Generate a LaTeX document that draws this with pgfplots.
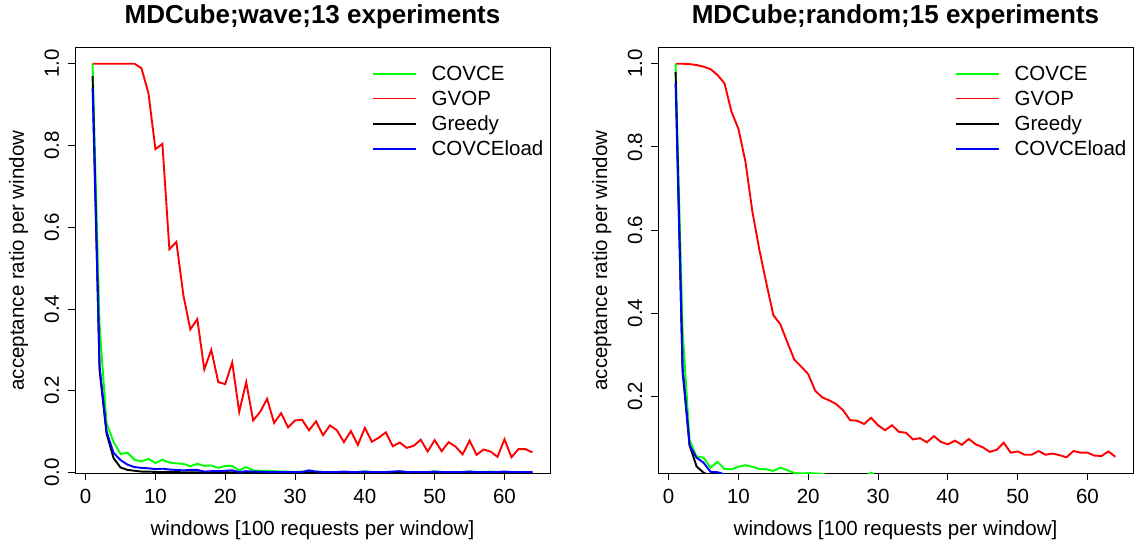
\documentclass[border=0pt]{standalone}
\usepackage{pgfplots}
\usepackage{pgfplotstable}
\pgfplotsset{compat=1.18}
\usepackage{fontspec}
\setmainfont{Liberation Sans}
\newcommand\lbl{\fontsize{20.5}{24}\selectfont}

\pgfplotstableread{
x gvop covce greedy load
1 1.000 1.000 0.970 0.940
2 1.000 0.360 0.250 0.260
3 1.000 0.120 0.095 0.100
4 1.000 0.075 0.035 0.048
5 1.000 0.045 0.012 0.030
6 1.000 0.048 0.006 0.019
7 1.000 0.031 0.004 0.013
8 0.989 0.027 0.002 0.011
9 0.928 0.033 0.002 0.010
10 0.791 0.023 0.001 0.008
11 0.804 0.031 0.001 0.009
12 0.546 0.024 0.001 0.007
13 0.564 0.022 0.001 0.006
14 0.434 0.021 0.000 0.005
15 0.350 0.015 0.000 0.006
16 0.375 0.021 0.000 0.006
17 0.252 0.016 0.000 0.002
18 0.300 0.017 0.000 0.003
19 0.221 0.011 0.000 0.003
20 0.216 0.016 0.001 0.004
21 0.269 0.016 0.000 0.005
22 0.148 0.005 0.000 0.001
23 0.221 0.013 0.000 0.003
24 0.127 0.005 0.000 0.002
25 0.148 0.004 0.000 0.002
26 0.180 0.004 0.000 0.001
27 0.121 0.003 0.000 0.001
28 0.145 0.002 0.000 0.001
29 0.110 0.002 0.000 0.001
30 0.127 0.001 0.000 0.001
31 0.129 0.002 0.000 0.001
32 0.103 0.001 0.000 0.005
33 0.125 0.002 0.000 0.002
34 0.091 0.001 0.000 0.001
35 0.115 0.001 0.000 0.001
36 0.103 0.001 0.000 0.001
37 0.074 0.001 0.000 0.002
38 0.101 0.001 0.000 0.001
39 0.067 0.001 0.000 0.001
40 0.109 0.002 0.000 0.002
41 0.075 0.001 0.000 0.001
42 0.085 0.001 0.000 0.001
43 0.098 0.001 0.000 0.001
44 0.064 0.001 0.000 0.002
45 0.073 0.002 0.000 0.003
46 0.060 0.001 0.000 0.001
47 0.065 0.001 0.000 0.001
48 0.080 0.001 0.000 0.001
49 0.051 0.001 0.000 0.001
50 0.079 0.002 0.000 0.002
51 0.052 0.001 0.000 0.001
52 0.074 0.001 0.000 0.001
53 0.063 0.001 0.000 0.001
54 0.044 0.001 0.000 0.001
55 0.078 0.002 0.000 0.002
56 0.043 0.001 0.000 0.001
57 0.056 0.001 0.000 0.001
58 0.051 0.002 0.000 0.001
59 0.038 0.001 0.000 0.001
60 0.081 0.001 0.000 0.002
61 0.037 0.001 0.000 0.001
62 0.057 0.001 0.000 0.001
63 0.057 0.001 0.000 0.001
64 0.049 0.001 0.000 0.001
}\wave

\pgfplotstableread{
x gvop covce greedy load
1 1.000 1.000 0.980 0.953
2 1.000 0.360 0.260 0.270
3 0.999 0.094 0.082 0.082
4 0.997 0.055 0.031 0.052
5 0.993 0.052 0.016 0.040
6 0.987 0.028 0.008 0.018
7 0.973 0.042 0.004 0.017
8 0.953 0.025 0.002 0.012
9 0.885 0.024 0.001 0.008
10 0.843 0.030 0.000 0.005
11 0.765 0.034 0.000 0.004
12 0.644 0.030 0.000 0.003
13 0.552 0.025 0.000 0.002
14 0.472 0.024 0.000 0.002
15 0.395 0.020 0.000 0.001
16 0.373 0.028 0.000 0.001
17 0.330 0.022 0.000 0.001
18 0.288 0.015 0.000 0.001
19 0.271 0.014 0.000 0.001
20 0.253 0.015 0.000 0.001
21 0.213 0.014 0.000 0.001
22 0.197 0.013 0.000 0.001
23 0.190 0.008 0.000 0.001
24 0.181 0.005 0.000 0.001
25 0.166 0.005 0.000 0.001
26 0.142 0.004 0.000 0.001
27 0.141 0.004 0.000 0.001
28 0.133 0.005 0.000 0.001
29 0.148 0.016 0.000 0.001
30 0.130 0.005 0.000 0.001
31 0.118 0.003 0.000 0.001
32 0.130 0.003 0.000 0.001
33 0.114 0.003 0.000 0.001
34 0.112 0.003 0.000 0.001
35 0.096 0.003 0.000 0.001
36 0.099 0.003 0.000 0.001
37 0.089 0.003 0.000 0.001
38 0.104 0.003 0.000 0.001
39 0.090 0.003 0.000 0.001
40 0.084 0.003 0.000 0.001
41 0.093 0.003 0.000 0.001
42 0.083 0.003 0.000 0.001
43 0.097 0.003 0.000 0.001
44 0.084 0.003 0.000 0.001
45 0.077 0.003 0.000 0.001
46 0.066 0.003 0.000 0.001
47 0.071 0.003 0.000 0.001
48 0.088 0.003 0.000 0.001
49 0.064 0.003 0.000 0.001
50 0.067 0.003 0.000 0.001
51 0.059 0.003 0.000 0.001
52 0.059 0.003 0.000 0.001
53 0.068 0.003 0.000 0.001
54 0.059 0.003 0.000 0.001
55 0.062 0.003 0.000 0.001
56 0.058 0.003 0.000 0.001
57 0.053 0.003 0.000 0.001
58 0.068 0.003 0.000 0.001
59 0.064 0.003 0.000 0.001
60 0.064 0.003 0.000 0.001
61 0.057 0.003 0.000 0.001
62 0.056 0.003 0.000 0.001
63 0.067 0.003 0.000 0.001
64 0.054 0.003 0.000 0.001
}\random

\pgfplotsset{
 rstyle/.style={
  scale only axis, width=475pt, height=425pt, anchor=south west,
  xmin=-1.52, xmax=66.52,
  axis line style={line width=1pt},
  tick align=outside, major tick length=7pt,
  tick style={line width=0.8pt, black},
  xtick pos=bottom, ytick pos=left,
  xtick={0,10,20,30,40,50,60}, xticklabels={0,10,20,30,40,50,60},
  tick label style={font=\lbl},
  xticklabel style={anchor=base, yshift=-23pt},
  yticklabel style={xshift=-9pt, rotate=90, anchor=base},
  label style={font=\lbl},
  xlabel={windows [100 requests per window]},
  ylabel={acceptance ratio per window},
  every axis x label/.style={at={(axis description cs:0.5,0)}, anchor=base, yshift=-62pt, font=\lbl},
  every axis y label/.style={at={(axis description cs:0,0.5)}, xshift=-51pt, rotate=90, anchor=base, font=\lbl},
  title style={font=\bfseries\fontsize{26}{30}\selectfont, at={(axis description cs:0.5,1)}, anchor=base, yshift=18pt},
  legend style={at={(axis description cs:0.625,0.963)}, anchor=north west, draw=none, fill=none, inner sep=0pt, font=\lbl, row sep=5pt, /tikz/every odd column/.append style={column sep=13pt}},
  legend image code/.code={\draw[#1, line width=1.6pt] (0pt,0pt) -- (43pt,0pt);},
  legend cell align=left,
 },
 ln/.style={line width=1.9pt},
}

\begin{document}
\begin{tikzpicture}[x=1pt,y=1pt]
\useasboundingbox (0,0) rectangle (1135,547);
\begin{axis}[rstyle, at={(75pt,74pt)},
  ymin=-0.0015, ymax=1.0385,
  ytick={0,0.2,0.4,0.6,0.8,1.0}, yticklabels={0.0,0.2,0.4,0.6,0.8,1.0},
  title={MDCube;wave;13 experiments}]
\addlegendimage{green}\addlegendentry{COVCE}
\addlegendimage{red}\addlegendentry{GVOP}
\addlegendimage{black}\addlegendentry{Greedy}
\addlegendimage{blue}\addlegendentry{COVCEload}
\addplot[red, ln, forget plot] table[x=x,y=gvop]{\wave};
\addplot[green, ln, forget plot] table[x=x,y=covce]{\wave};
\addplot[black, ln, forget plot] table[x=x,y=greedy]{\wave};
\addplot[blue, ln, forget plot] table[x=x,y=load]{\wave};
\end{axis}
\begin{axis}[rstyle, at={(658pt,74pt)},
  ymin=0.0151, ymax=1.0379,
  ytick={0.2,0.4,0.6,0.8,1.0}, yticklabels={0.2,0.4,0.6,0.8,1.0},
  title={MDCube;random;15 experiments}]
\addlegendimage{green}\addlegendentry{COVCE}
\addlegendimage{red}\addlegendentry{GVOP}
\addlegendimage{black}\addlegendentry{Greedy}
\addlegendimage{blue}\addlegendentry{COVCEload}
\addplot[red, ln, forget plot] table[x=x,y=gvop]{\random};
\addplot[green, ln, forget plot] table[x=x,y=covce]{\random};
\addplot[black, ln, forget plot] table[x=x,y=greedy]{\random};
\addplot[blue, ln, forget plot] table[x=x,y=load]{\random};
\end{axis}
\end{tikzpicture}
\end{document}
